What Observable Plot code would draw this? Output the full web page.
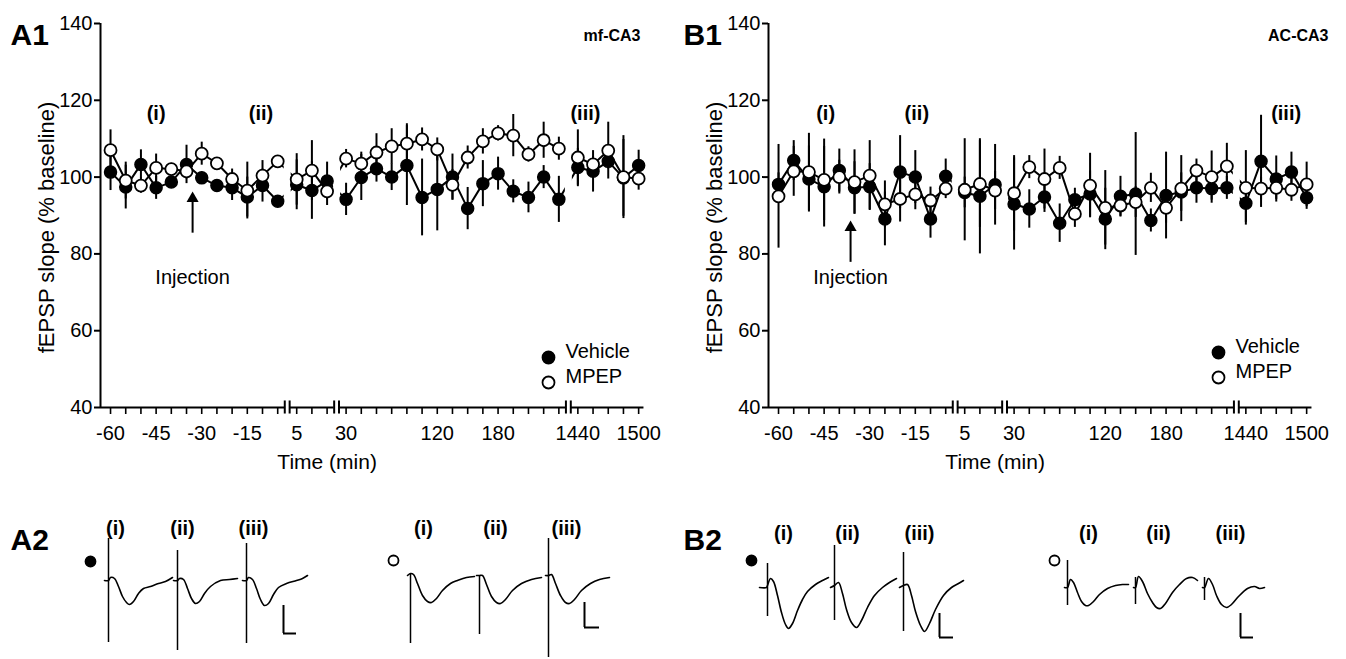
<!DOCTYPE html>
<html><head><meta charset="utf-8">
<script src="https://cdn.jsdelivr.net/npm/d3@7"></script>
<script src="https://cdn.jsdelivr.net/npm/@observablehq/plot@0.6"></script>
<style>
body{margin:0;background:#fff;font-family:"Liberation Sans",Arial,Helvetica,sans-serif;}
#page{position:relative;width:1346px;height:659px;overflow:hidden;background:#fff;}
.panel{position:absolute;}
svg{overflow:visible;}
</style></head><body><div id="page">
<div id="a1" class="panel" style="left:0;top:0"></div>
<div id="b1" class="panel" style="left:673px;top:0"></div>
<div id="tr" class="panel" style="left:0;top:480px"></div>
</div>
<script>
// ---------- time points (min) ----------
const preTimes = [-60,-55,-50,-45,-40,-35,-30,-25,-20,-15,-10,-5];
const earlyTimes = [5,10,15];
const postTimes = [30,45,60,75,90,105,120,135,150,165,180,195,210,225,240];
const lateTimes = [1440,1455,1470,1485,1500];
const times = [...preTimes, ...earlyTimes, ...postTimes, ...lateTimes];
const xTickLabels = [-60,-45,-30,-15,5,30,120,180,1440,1500];
const yTicks = [40,60,80,100,120,140];
const seriesNames = ["Vehicle","MPEP"];
const epochLabels = ["(i)","(ii)","(iii)"];

// ---------- A1 mf-CA3 (% baseline) ----------
const a1Vehicle = [101.3,97.4,103.3,97.2,98.7,103.3,99.8,97.8,97.2,94.8,97.8,93.7,
  98.0,96.5,99.0,
  94.2,99.9,102.2,100.0,103.0,94.7,96.8,100.0,91.8,98.3,100.9,96.3,94.7,100.0,94.2,
  102.5,101.5,104.1,99.8,103.0];
const a1VehicleSem = [4.8,5.7,3.8,3.0,1.5,5.0,1.5,1.5,3.3,5.2,4.3,1.5,
  6.5,7.5,4.9,
  4.2,6.0,3.5,3.5,10.4,10.0,10.8,6.0,5.5,6.0,4.3,3.0,4.0,3.0,6.0,
  5.0,5.4,2.0,10.0,4.0];
const a1Mpep = [107.0,99.1,97.8,102.4,102.1,101.5,106.1,103.6,99.5,96.5,100.4,104.1,
  99.4,101.7,96.3,
  104.8,103.5,106.4,108.0,108.7,109.8,107.2,98.0,105.1,109.3,111.4,110.8,105.9,109.6,107.4,
  105.1,103.3,106.9,100.0,99.6];
const a1MpepSem = [5.3,4.8,2.0,3.6,1.5,2.0,3.0,1.5,2.6,7.4,3.9,1.5,
  6.7,7.8,3.7,
  2.4,3.0,4.9,4.6,5.2,3.0,3.0,4.0,3.0,3.3,2.0,5.5,2.0,4.7,3.0,
  7.2,2.0,7.4,10.8,3.0];

// ---------- B1 AC-CA3 (% baseline) ----------
const b1Vehicle = [98.1,104.3,99.5,97.5,101.7,97.2,97.5,89.1,101.3,100.0,89.1,100.2,
  96.0,95.0,98.0,
  93.0,91.7,94.8,88.0,94.1,95.6,89.1,95.0,95.6,88.7,95.2,96.1,97.2,97.0,97.2,
  93.2,104.1,99.5,101.3,94.6];
const b1VehicleSem = [3.0,5.2,8.6,10.5,5.6,6.8,6.0,7.0,9.5,6.9,5.0,4.5,
  4.0,15.0,10.5,
  12.0,5.0,4.0,5.0,3.0,6.0,8.0,5.2,16.0,3.0,11.3,5.0,4.0,3.0,3.0,
  5.0,12.0,6.0,5.2,3.0];
const b1Mpep = [95.0,101.5,101.3,99.3,100.0,98.7,100.4,92.9,94.3,95.5,93.9,97.0,
  96.7,98.2,96.5,
  95.8,102.6,99.5,102.4,90.4,97.8,92.0,92.6,93.5,97.2,92.0,97.0,101.7,100.0,102.8,
  97.2,97.0,97.2,96.7,98.1];
const b1MpepSem = [13.5,6.5,10.1,10.6,4.4,8.4,9.1,6.1,6.0,4.0,3.5,2.6,
  13.3,11.3,5.0,
  9.8,3.0,7.8,3.0,3.5,8.4,9.7,3.0,4.0,3.8,4.0,8.6,3.0,6.8,6.0,
  9.7,3.0,3.0,3.0,5.8];

// ---------- broken time axis: time -> axis slot ----------
function slot(t){
  if (t < 0) return (t + 60) / 5;
  if (t <= 15) return 12.25 + (t - 5) / 5;
  if (t <= 240) return 15.5 + (t - 30) / 15;
  return 30.75 + (t - 1440) / 15;
}
const breakSlots = [(slot(-5)+slot(5))/2, (slot(15)+slot(30))/2, (slot(240)+slot(1440))/2];
const xDomain = [-0.66, 35.53];
const gapHalf = 0.16;
const axisSegments = [
  [xDomain[0], breakSlots[0]-gapHalf],
  [breakSlots[0]+gapHalf, breakSlots[1]-gapHalf],
  [breakSlots[1]+gapHalf, breakSlots[2]-gapHalf],
  [breakSlots[2]+gapHalf, slot(1500)+0.35]
];
const breakEnds = breakSlots.flatMap(b => [b-gapHalf, b+gapHalf]);
const labelBySlot = new Map(xTickLabels.map(t => [slot(t).toFixed(3), String(t)]));

const FONT = '"Liberation Sans", Arial, Helvetica, sans-serif';

function makeRows(vals, sems, name){
  return times.map((t,i) => ({t, s: slot(t), v: vals[i], e: sems[i], series: name}));
}

function legendMarks(cfg){
  return seriesNames.map((n,i) => [
    Plot.dot([n], {frameAnchor: "bottom-right", dx: cfg.legDx, dy: cfg.legDy + 25*i, r: 6,
      fill: i === 0 ? "black" : "white", stroke: "black", strokeWidth: 1.8}),
    Plot.text([n], {frameAnchor: "bottom-right", dx: cfg.legDx + 17, dy: cfg.legDy + 25*i, textAnchor: "start", fontSize: 20})
  ]).flat();
}

function panelWithLegend(cfg){
  const veh = makeRows(cfg.veh, cfg.vehSem, seriesNames[0]);
  const mp = makeRows(cfg.mpep, cfg.mpepSem, seriesNames[1]);
  const all = [...veh, ...mp];
  return Plot.plot({
    width: cfg.width, height: 480,
    marginLeft: cfg.marginLeft, marginRight: cfg.marginRight, marginTop: 23, marginBottom: 73,
    x: {domain: xDomain, axis: null},
    y: {domain: [40,140], axis: null},
    style: {fontFamily: FONT, fontSize: "20px", color: "black", background: "white", overflow: "visible"},
    marks: [
      Plot.ruleX(all, {x: "s", y1: d => d.v - d.e, y2: d => d.v + d.e, stroke: "black", strokeWidth: 2}),
      Plot.line(all, {x: "s", y: "v", z: "series", stroke: "black", strokeWidth: 2}),
      Plot.ruleX(breakSlots, {x: d => d, stroke: "white", strokeWidth: 7}),
      Plot.ruleX([xDomain[0]], {y1: 40, y2: 140, stroke: "black", strokeWidth: 2}),
      Plot.axisY({ticks: yTicks, tickSize: 6, tickPadding: 2, fontSize: 20, label: null, strokeWidth: 2, tickFormat: d => String(d)}),
      Plot.ruleY(axisSegments, {y: 40, x1: d => d[0], x2: d => d[1], stroke: "black", strokeWidth: 2}),
      Plot.ruleX(breakEnds, {x: d => d, y1: 38.3, y2: 41.7, stroke: "black", strokeWidth: 2}),
      Plot.axisX({ticks: times.map(slot), tickSize: 7, tickPadding: 11, fontSize: 20, label: null, strokeWidth: 1.6,
        tickFormat: s => labelBySlot.get(s.toFixed(3)) ?? ""}),
      Plot.text(["Time (min)"], {x: slot(15), frameAnchor: "bottom", dy: 61, fontSize: 21}),
      Plot.text(["fEPSP slope (% baseline)"], {frameAnchor: "left", dx: -54, dy: 12, rotate: -90, textAnchor: "middle", fontSize: 22}),
      Plot.ruleX([cfg.inj], {x: d => slot(d.t), y1: d => d.tail, y2: d => d.tip - 1.5, stroke: "black", strokeWidth: 2}),
      Plot.dot([cfg.inj], {x: d => slot(d.t), y: d => d.tip - 1.3, symbol: "triangle", r: 4.5, fill: "black"}),
      Plot.text([cfg.inj], {x: d => slot(d.t), y: d => d.textY, text: () => "Injection", fontSize: 20}),
      Plot.dot(veh, {x: "s", y: "v", r: 6, fill: "black", stroke: "black", strokeWidth: 1.5}),
      Plot.dot(mp, {x: "s", y: "v", r: 6, fill: "white", stroke: "black", strokeWidth: 1.8}),
      Plot.text(cfg.epochs, {x: d => d, y: 116.6, text: (d,i) => epochLabels[i], fontSize: 20, fontWeight: "bold"}),
      Plot.text([cfg.label], {frameAnchor: "top-left", dx: 10 - cfg.marginLeft, dy: 0, fontSize: 30, fontWeight: "bold", textAnchor: "start"}),
      Plot.text([cfg.region], {frameAnchor: "top-right", dx: cfg.regionDx, dy: 6, fontSize: 16, fontWeight: "bold", textAnchor: "end"}),
      ...legendMarks(cfg)
    ]
  });
}

const a1 = panelWithLegend({
  width: 660, marginLeft: 100, marginRight: 10,
  veh: a1Vehicle, vehSem: a1VehicleSem, mpep: a1Mpep, mpepSem: a1MpepSem,
  inj: {t: -33, tip: 95.7, tail: 85.4, textY: 73.9},
  epochs: [3.0, 9.9, 31.25],
  label: "A1", region: "mf-CA3", regionDx: -10,
  legDx: -102, legDy: -50
});
const b1 = panelWithLegend({
  width: 665, marginLeft: 95, marginRight: 20,
  veh: b1Vehicle, vehSem: b1VehicleSem, mpep: b1Mpep, mpepSem: b1MpepSem,
  inj: {t: -36.3, tip: 88.2, tail: 77.8, textY: 73.9},
  epochs: [3.1, 9.1, 33.4],
  label: "B1", region: "AC-CA3", regionDx: 10,
  legDx: -100, legDy: -55
});
document.getElementById("a1").appendChild(a1);
document.getElementById("b1").appendChild(b1);

// ---------- A2 / B2 sample fEPSP traces (shape; relative units: dt, dv down) ----------
const aVehWaves = [
  [[-4,0],[0,0],[2,-3],[6,-2],[10,6],[14,16],[18,22],[21,24],[25,21],[30,13],[35,8],[42,6],[50,3],[57,1],[64,-3]],
  [[-4,0],[0,0],[2,-2],[6,-1],[10,8],[14,18],[18,23],[22,21],[27,13],[33,6],[43,0],[52,-1],[60,-2]],
  [[-4,0],[0,0],[2,-3],[6,-1],[10,8],[14,19],[18,25],[22,23],[27,14],[32,7],[40,3],[50,0],[56,-2],[61,-5]]
];
const aVehSpikes = [[-42,62],[-30,70],[-37,63]];
const aMpepWaves = [
  [[-3,0],[0,-2],[3,-1],[7,8],[12,20],[17,26],[21,27],[26,23],[32,15],[40,8],[47,5],[56,2],[64,1]],
  [[-3,0],[0,0],[3,0],[7,9],[12,21],[17,27],[21,28],[26,24],[33,15],[42,8],[52,4],[62,2]],
  [[-3,0],[0,0],[3,-1],[7,8],[12,20],[17,27],[21,28],[26,24],[33,15],[42,8],[51,4],[61,2]]
];
const aMpepSpikes = [[-2,68],[0,59],[-37,82]];
const bVehWaves = [
  [[-8,2],[-1,2],[0,0],[3,-7],[6,-4],[10,10],[14,27],[18,39],[21,43],[25,38],[30,25],[35,14],[40,6],[48,-1],[55,-5],[61,-8]],
  [[-4,2],[0,0],[4,-3],[8,8],[12,24],[17,37],[22,42],[27,35],[33,22],[40,10],[48,2],[55,-3],[62,-7]],
  [[-4,2],[0,0],[4,-1],[8,10],[12,26],[17,40],[21,46],[26,38],[32,24],[40,10],[48,2],[55,-2],[60,-5]]
];
const bVehSpikes = [[-22,31],[-40,35],[-33,46]];
const bMpepWaves = [
  [[-3,0],[0,0],[3,-8],[6,-5],[10,5],[14,14],[18,18],[21,18],[26,14],[32,7],[40,1],[48,-2],[55,-3],[61,-3]],
  [[-2,0],[0,0],[3,-11],[7,-6],[12,6],[17,15],[21,20],[25,21],[30,16],[37,5],[44,-3],[51,-9],[57,-10],[62,-7]],
  [[-2,0],[0,0],[4,-9],[8,-3],[12,8],[17,17],[22,20],[27,17],[34,9],[43,1],[50,-1],[55,1],[60,0]]
];
const bMpepSpikes = [[-27,18],[-10,17],[-10,13]];

// layout of the trace groups on the page (positions, not data)
const traceLayout = [
  {waves: aVehWaves, spikes: aVehSpikes, x: [108,177,246], base: 580, filled: true, mark: [90,561], labX: [115,182,253], labY: 528, bar: [283,605,633,296]},
  {waves: aMpepWaves, spikes: aMpepSpikes, x: [410,479,548], base: 575, filled: false, mark: [393,560], labX: [423,495,566], labY: 528, bar: [584,602,627,599]},
  {waves: bVehWaves, spikes: bVehSpikes, x: [767,834,903], base: 585, filled: true, mark: [751,560], labX: [783,847,919], labY: 533, bar: [939,613,637,953]},
  {waves: bMpepWaves, spikes: bMpepSpikes, x: [1067,1135,1204], base: 587, filled: false, mark: [1054,560], labX: [1088,1158,1230], labY: 533, bar: [1240,613,637,1253]}
];
const waveRows = [], spikeRows = [], labRows = [], markRows = [], barRows = [];
traceLayout.forEach((g, gi) => {
  g.waves.forEach((w, k) => w.forEach(([dt, dv]) => waveRows.push({key: gi + "-" + k, x: g.x[k] + dt, y: g.base + dv})));
  g.spikes.forEach(([up, dn], k) => spikeRows.push({x: g.x[k], y1: g.base + up, y2: g.base + dn}));
  g.labX.forEach((lx, k) => labRows.push({x: lx, y: g.labY, text: epochLabels[k]}));
  markRows.push({x: g.mark[0], y: g.mark[1], filled: g.filled});
  barRows.push({x: g.bar[0], y1: g.bar[1], y2: g.bar[2], x2: g.bar[3]});
});
const panelLabels2 = [{x: 10, y: 540, text: "A2"}, {x: 683, y: 540, text: "B2"}];

const tr = Plot.plot({
  width: 1346, height: 179, margin: 0,
  x: {domain: [0,1346], range: [0,1346], axis: null},
  y: {domain: [480,659], range: [0,179], axis: null},
  style: {fontFamily: FONT, fontSize: "20px", color: "black", background: "white", overflow: "visible"},
  marks: [
    Plot.line(waveRows, {x: "x", y: "y", z: "key", curve: "catmull-rom", stroke: "black", strokeWidth: 1.6}),
    Plot.ruleX(spikeRows, {x: "x", y1: "y1", y2: "y2", stroke: "black", strokeWidth: 1.5}),
    Plot.ruleX(barRows, {x: "x", y1: "y1", y2: "y2", stroke: "black", strokeWidth: 2}),
    Plot.ruleY(barRows, {y: "y2", x1: "x", x2: "x2", stroke: "black", strokeWidth: 2}),
    Plot.dot(markRows, {x: "x", y: "y", r: 5, fill: d => d.filled ? "black" : "white", stroke: "black", strokeWidth: 1.8}),
    Plot.text(labRows, {x: "x", y: "y", text: "text", fontSize: 20, fontWeight: "bold"}),
    Plot.text(panelLabels2, {x: "x", y: "y", text: "text", fontSize: 30, fontWeight: "bold", textAnchor: "start"})
  ]
});
document.getElementById("tr").appendChild(tr);
</script></body></html>
